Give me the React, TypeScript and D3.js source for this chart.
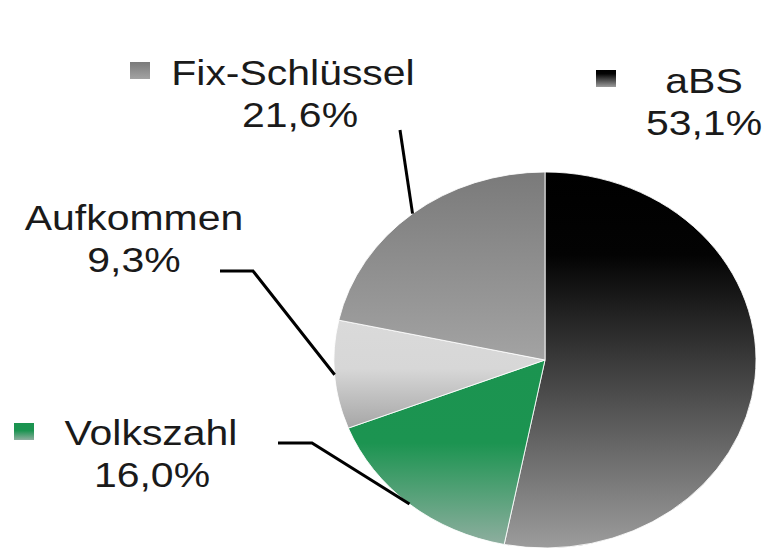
import React from 'react'
import * as d3 from 'd3'

// Anteile der Verteilungsschlüssel
const categories = ['aBS', 'Volkszahl', 'Aufkommen', 'Fix-Schlüssel']
const shares = [53.1, 16.0, 9.3, 21.6]

// gradient stops per slice (top -> bottom)
const gradients = [
  [['0%', '#000000'], ['22%', '#030303'], ['100%', '#9c9c9c']],
  [['0%', '#1b9450'], ['45%', '#1c9451'], ['100%', '#8eae9f']],
  [['0%', '#dadada'], ['45%', '#d7d7d7'], ['100%', '#a6a6a6']],
  [['0%', '#7a7a7a'], ['100%', '#a3a3a3']],
]

const width = 768
const height = 551
const cx = 545
const cy = 360
const rx = 211
const ry = 188
const stretch = 1.17

// label layout: [name center x, name baseline, value center x, value baseline]
const labelPos = [
  [704, 93, 704, 135],
  [151, 445, 152, 487],
  [134, 230, 134, 272],
  [293, 85, 300, 127],
]
// legend squares (null = none shown)
const markerPos = [[596, 70], [14, 423], null, [130, 62]]
// leader lines start / elbow (null = no leader)
const leaderStart = [null, [[278, 443], [312, 443]], [[220, 271], [253, 271]], [[400, 130]]]

const deLocale = d3.formatLocale({ decimal: ',', thousands: '.', grouping: [3], currency: ['', ' €'] })
const fmt = deLocale.format('.1f')

export default function App() {
  const pie = d3.pie<number>().sort(null).value((d) => d)
  const arcs = pie(shares)
  const arc = d3.arc<d3.PieArcDatum<number>>().innerRadius(0).outerRadius(ry)

  const edgePoint = (a: d3.PieArcDatum<number>) => {
    const mid = (a.startAngle + a.endAngle) / 2
    return [cx + rx * Math.sin(mid), cy - ry * Math.cos(mid)]
  }

  const line = d3.line()

  return (
    <div style={{ position: 'absolute', left: 0, top: 0 }}>
      <svg width={width} height={height} style={{ display: 'block', background: '#fff' }}>
        <defs>
          {gradients.map((stops, i) => (
            <linearGradient key={i} id={'grad' + i} x1="0" y1="0" x2="0" y2="1">
              {stops.map(([o, c], j) => (
                <stop key={j} offset={o} stopColor={c} />
              ))}
            </linearGradient>
          ))}
        </defs>

        <g transform={`translate(${cx},${cy}) scale(${rx / ry},1)`}>
          {arcs.map((a, i) => (
            <path key={i} d={arc(a) || ''} fill={`url(#grad${i})`} stroke="#ffffff" strokeWidth={0.8} />
          ))}
        </g>

        {arcs.map((a, i) => {
          const start = leaderStart[i]
          if (!start) return null
          const pts = [...start, edgePoint(a)] as [number, number][]
          return <path key={i} d={line(pts) || ''} fill="none" stroke="#000" strokeWidth={3} />
        })}

        {categories.map((c, i) => {
          const m = markerPos[i]
          if (!m) return null
          return <rect key={i} x={m[0]} y={m[1]} width={20} height={17} fill={`url(#grad${i})`} />
        })}

        <g fontFamily="'Liberation Sans', Arial, sans-serif" fontSize={35} fill="#1a1a1a" textAnchor="middle">
          {categories.map((c, i) => {
            const p = labelPos[i]
            return (
              <g key={i}>
                <text transform={`translate(${p[0]},${p[1]}) scale(${stretch},1)`}>{c}</text>
                <text transform={`translate(${p[2]},${p[3]}) scale(${stretch},1)`}>{fmt(shares[i]) + '%'}</text>
              </g>
            )
          })}
        </g>
      </svg>
    </div>
  )
}
